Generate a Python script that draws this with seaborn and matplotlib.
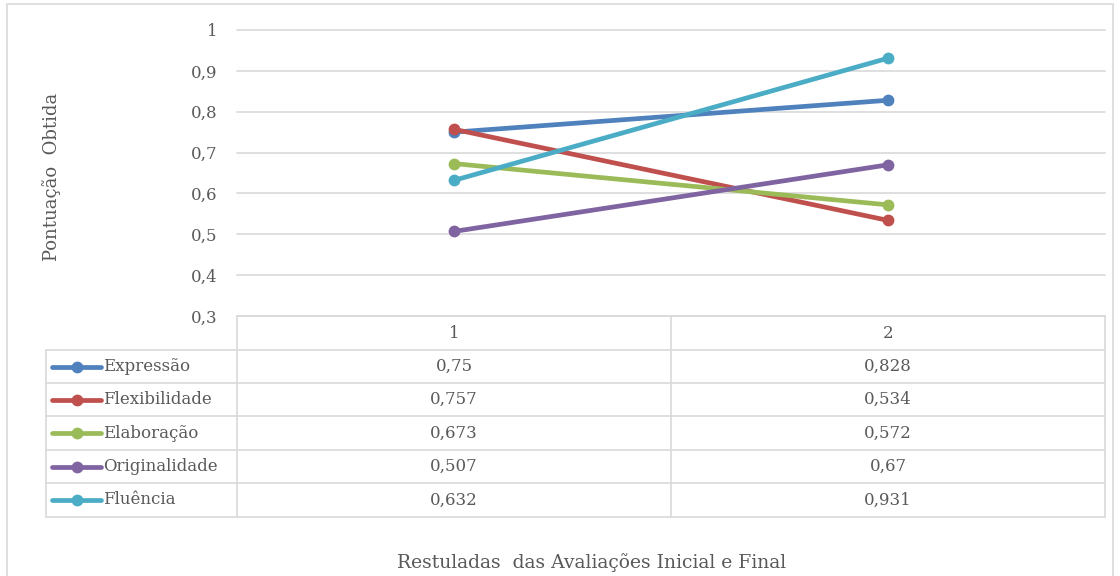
import matplotlib
matplotlib.use("Agg")
import matplotlib.pyplot as plt
from matplotlib.lines import Line2D
from matplotlib.patches import Rectangle
import seaborn as sns
import pandas as pd

# ---- data ----
categories = ["1", "2"]
series_names = ["Expressão", "Flexibilidade", "Elaboração", "Originalidade", "Fluência"]
expressao = [0.75, 0.828]
flexibilidade = [0.757, 0.534]
elaboracao = [0.673, 0.572]
originalidade = [0.507, 0.67]
fluencia = [0.632, 0.931]
y_ticks = [0.3, 0.4, 0.5, 0.6, 0.7, 0.8, 0.9, 1.0]
y_label = "Pontuação  Obtida"
x_label = "Restuladas  das Avaliações Inicial e Final"

values = [expressao, flexibilidade, elaboracao, originalidade, fluencia]
colors = ["#4F81BD", "#C0504D", "#9BBB59", "#8064A2", "#4BACC6"]

rows = []
for name, vals in zip(series_names, values):
    for i, v in enumerate(vals):
        rows.append({"pos": i, "serie": name, "valor": v})
df = pd.DataFrame(rows)

W, H = 1120, 576
sns.set_theme(style="white")
plt.rcParams["font.family"] = ["DejaVu Serif"]
fig = plt.figure(figsize=(W / 100, H / 100), dpi=100)

def fx(x):
    return x / W

def fy(y):
    return 1 - y / H

GRID = "#D9D9D9"
TXT = "#595959"
FS = 12

# outer chart border
fig.add_artist(Rectangle((fx(7), fy(600)), fx(1113 - 7), (600 - 4) / H,
                         fill=False, edgecolor=GRID, lw=1.2))

L, R, T, B = 237, 1105, 30, 316
ax = fig.add_axes([fx(L), fy(B), fx(R - L), (B - T) / H])
sns.lineplot(data=df, x="pos", y="valor", hue="serie", palette=colors,
             hue_order=series_names, marker="o", markersize=8.5, markeredgewidth=0,
             linewidth=3.4, legend=False, ax=ax, zorder=3)
ax.set_xlim(-0.5, len(categories) - 0.5)
ax.set_ylim(0.3, 1.0)
ax.set_yticks(y_ticks)
ax.set_yticklabels([("%g" % t).replace(".", ",") for t in y_ticks], color=TXT, fontsize=FS)
ax.set_xticks([])
ax.set_xlabel("")
ax.set_ylabel("")
ax.tick_params(axis="y", length=0, pad=14)
for s in ax.spines.values():
    s.set_visible(False)
ax.yaxis.grid(True, color=GRID, lw=1.2)
for gl in ax.get_ygridlines():
    gl.set_clip_on(False)
ax.set_axisbelow(True)

# ---- data table ----
row_h = [316, 350, 383, 416, 450, 483, 517]
col_x = [46, 237, 671, 1105]
lw = 1.2
fig.add_artist(Line2D([fx(237), fx(1105)], [fy(316), fy(316)], color=GRID, lw=lw))
for y in row_h[1:]:
    fig.add_artist(Line2D([fx(46), fx(1105)], [fy(y), fy(y)], color=GRID, lw=lw))
fig.add_artist(Line2D([fx(46), fx(46)], [fy(350), fy(517)], color=GRID, lw=lw))
for x in col_x[1:]:
    fig.add_artist(Line2D([fx(x), fx(x)], [fy(316), fy(517)], color=GRID, lw=lw))

col_centers = [(col_x[1] + col_x[2]) / 2, (col_x[2] + col_x[3]) / 2]
for c, cat in zip(col_centers, categories):
    fig.text(fx(c), fy(333), cat, ha="center", va="center", color=TXT, fontsize=FS)

for i, (name, vals, col) in enumerate(zip(series_names, values, colors)):
    yc = (row_h[i + 1] + row_h[i + 2]) / 2
    fig.add_artist(Line2D([fx(52), fx(101)], [fy(yc), fy(yc)], color=col, lw=3.4,
                          solid_capstyle="round"))
    fig.add_artist(Line2D([fx(77)], [fy(yc)], color=col, marker="o", markersize=8.5,
                          markeredgewidth=0))
    fig.text(fx(103), fy(yc), name, ha="left", va="center", color=TXT, fontsize=FS)
    for c, v in zip(col_centers, vals):
        fig.text(fx(c), fy(yc), ("%g" % v).replace(".", ","), ha="center", va="center",
                 color=TXT, fontsize=FS)

fig.text(fx(52), fy(177), y_label, rotation=90, ha="center", va="center",
         color=TXT, fontsize=13)
fig.text(fx(592), fy(563), x_label, ha="center", va="center", color=TXT, fontsize=13.5)

fig.savefig("out.png", dpi=100, facecolor="white")
